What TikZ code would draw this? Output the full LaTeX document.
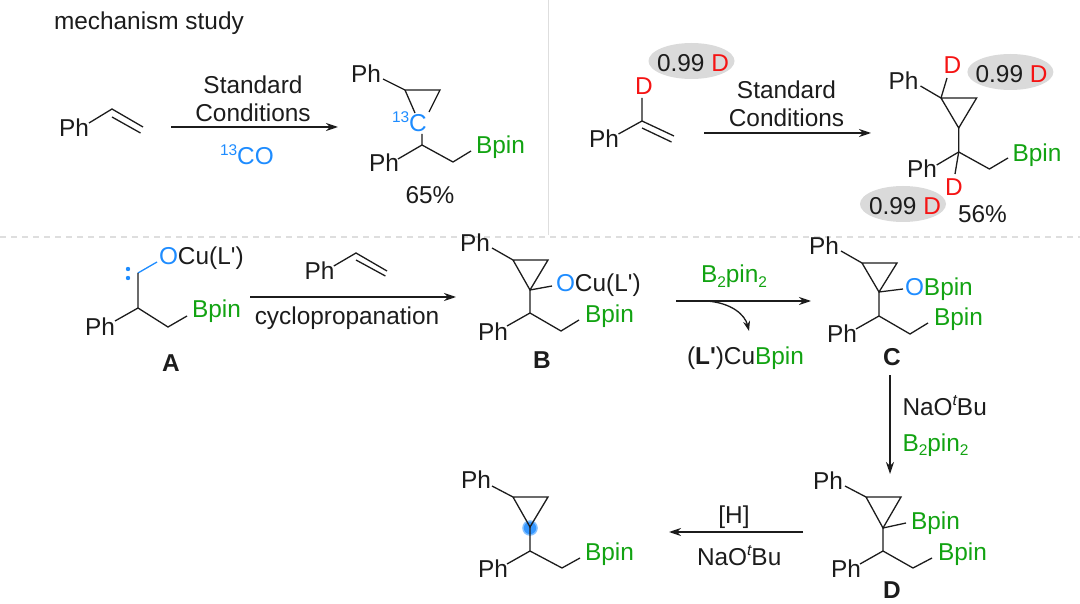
\documentclass[tikz,border=0pt]{standalone}
\usepackage{fontspec}
\setmainfont{Liberation Sans}
\newfontfamily\plainf{Liberation Sans}
\usetikzlibrary{arrows.meta}
\definecolor{ink}{HTML}{1C1C1C}
\definecolor{bgreen}{HTML}{12A312}
\definecolor{cblue}{HTML}{1E8CFF}
\definecolor{dred}{HTML}{F51414}
\definecolor{halo}{HTML}{DADADA}
\definecolor{sepc}{HTML}{DEDEDE}
\newcommand{\up}[1]{\raisebox{0.38em}{\fontsize{15.5}{17}\selectfont #1}}
\newcommand{\dn}[1]{\raisebox{-0.17em}{\fontsize{15.5}{17}\selectfont #1}}
\newcommand{\grn}[1]{\textcolor{bgreen}{#1}}
\newcommand{\blu}[1]{\textcolor{cblue}{#1}}
\newcommand{\rd}[1]{\textcolor{dred}{#1}}
\tikzset{
  lab/.style={inner sep=0pt,outer sep=0pt,anchor=base west,text=ink,font=\plainf\fontsize{24.4}{27}\selectfont},
  ctr/.style={lab,anchor=base},
  bold/.style={ctr,font=\plainf\fontsize{24.4}{27}\selectfont\bfseries},
  bond/.style={draw=ink,line width=1.3pt,line join=miter},
  rxn/.style={draw=ink,line width=1.4pt,-{Stealth[length=12pt,width=8pt]}},
  halofill/.style={fill=halo,draw=none},
  sep/.style={draw=sepc,line width=1.1pt}
}
\begin{document}
\begin{tikzpicture}[x=1pt,y=-1pt]
\useasboundingbox (0,0) rectangle (1080,604);
% separators
\draw[sep] (548.6,0) -- (548.6,235);
\draw[sep,dash pattern=on 6pt off 5pt] (0,237) -- (1080,237);
% halos
\fill[halofill] (691.5,61) ellipse [x radius=43,y radius=18];
\fill[halofill] (1010.4,72) ellipse [x radius=43,y radius=18];
\fill[halofill] (903,204) ellipse [x radius=43,y radius=18];
\fill[cblue!55] (530,528) circle (7.8);
\fill[cblue!90] (530,528) circle (6.2);

\node[lab] (title) at (54,30) {mechanism study};

% styrene 1
\node[lab] (ph1) at (59,137) {Ph};
\draw[bond] (89,123) -- (112,109) -- (143,127);
\draw[bond] (112,117) -- (140.5,133);
% arrow 1
\coordinate (a1s) at (171,127); \coordinate (a1e) at (338,127);
\draw[rxn] (a1s) -- (a1e);
\node[ctr] (std1) at (253,94) {Standard};
\node[ctr] (con1) at (253,122) {Conditions};
\node[lab] (co13) at (220,165) {\blu{\up{13}CO}};
% product 1
\node[lab] (ph2) at (351,83) {Ph};
\draw[bond] (383,79) -- (405,90) -- (440,90) -- (429,112);
\draw[bond] (405,90) -- (415,113);
\node[lab] (c13) at (392,132) {\blu{\up{13}C}};
\draw[bond] (422,134) -- (422,145) -- (398,159);
\draw[bond] (422,145) -- (453,162) -- (471,151);
\node[lab] (ph3) at (369,172) {Ph};
\node[lab] (bp1) at (476,154) {\grn{Bpin}};
\node[ctr] (y1) at (430,204) {65\%};

% deuterated styrene
\node[lab] (h1) at (657,72) {0.99 \rd{D}};
\node[lab] (d1) at (635,95) {\rd{D}};
\draw[bond] (642,98) -- (642,121) -- (618.5,134);
\draw[bond] (642,121) -- (674,136);
\draw[bond] (642,128) -- (671.5,142);
\node[lab] (ph4) at (589,148) {Ph};
% arrow 2
\coordinate (a2s) at (704,133); \coordinate (a2e) at (871,133);
\draw[rxn] (a2s) -- (a2e);
\node[ctr] (std2) at (786.5,99) {Standard};
\node[ctr] (con2) at (786.5,127) {Conditions};
% product 2
\node[lab] (ph5) at (888.5,90) {Ph};
\node[lab] (d2) at (943.6,74) {\rd{D}};
\draw[bond] (920.5,86) -- (941,98);
\draw[bond] (941,98) -- (947,78);
\draw[bond] (941,98) -- (976.6,98) -- (958.7,128) -- cycle;
\draw[bond] (958.7,128) -- (958.7,152) -- (936.7,165);
\draw[bond] (958.7,152) -- (989.4,169) -- (1008,158);
\draw[bond] (958.7,152) -- (955,174);
\node[lab] (h2) at (975.6,83) {0.99 \rd{D}};
\node[lab] (ph6) at (907,178) {Ph};
\node[lab] (bp2) at (1012.5,162) {\grn{Bpin}};
\node[lab] (d3) at (945,196) {\rd{D}};
\node[lab] (h3) at (869,215) {0.99 \rd{D}};
\node[ctr] (y2) at (982.5,223) {56\%};

% A
\node[lab] (oa) at (159,265) {\blu{O}Cu(L')};
\draw[bond,draw=cblue] (138,273) -- (157,262);
\draw[bond] (138,273) -- (138,308) -- (115,321);
\draw[bond] (138,308) -- (168,327) -- (187,316);
\fill[cblue] (128,269) circle (2.2);
\fill[cblue] (128,278) circle (2.2);
\node[lab] (ph7) at (85,336) {Ph};
\node[lab] (bp3) at (192,318) {\grn{Bpin}};
\node[bold] (la) at (171,371) {A};
% styrene reagent
\node[lab] (ph8) at (304.5,280) {Ph};
\draw[bond] (333.8,266) -- (356,253) -- (387,271);
\draw[bond] (356,260) -- (385.4,276);
% arrow 3
\coordinate (a3s) at (250,297); \coordinate (a3e) at (456,297);
\draw[rxn] (a3s) -- (a3e);
\node[ctr] (cp) at (347,325) {cyclopropanation};
% B
\node[lab] (ph9) at (460,252) {Ph};
\draw[bond] (492,248) -- (513,260);
\draw[bond] (513,260) -- (548,260) -- (530,290) -- cycle;
\draw[bond] (530,290) -- (552,286);
\draw[bond] (530,290) -- (530,313) -- (507,326);
\draw[bond] (530,313) -- (561,331) -- (579,320);
\node[lab] (ob) at (556,292) {\blu{O}Cu(L')};
\node[lab] (ph10) at (478,341) {Ph};
\node[lab] (bp4) at (585,323) {\grn{Bpin}};
\node[bold] (lb) at (542,368) {B};
% arrow 4
\coordinate (a4s) at (676,301); \coordinate (a4e) at (811,301);
\coordinate (c4s) at (707,301); \coordinate (c4e) at (749,331);
\draw[rxn] (a4s) -- (a4e);
\draw[rxn,line width=1.3pt,-{Stealth[length=10pt,width=7pt]}] (c4s) .. controls (732,303) and (745,315) .. (c4e);
\node[lab] (b2a) at (701,283) {\grn{B\dn{2}pin\dn{2}}};
\node[lab] (cub) at (687,364) {(\textbf{L'})Cu\grn{Bpin}};
% C
\node[lab] (ph11) at (809,255) {Ph};
\draw[bond] (841,251) -- (862,263);
\draw[bond] (862,263) -- (897,263) -- (879,292) -- cycle;
\draw[bond] (879,292) -- (903,289);
\draw[bond] (879,292) -- (879,316) -- (856,329);
\draw[bond] (879,316) -- (910,334) -- (928,323);
\node[lab] (oc) at (905,296) {\blu{O}\grn{Bpin}};
\node[lab] (ph12) at (827,343) {Ph};
\node[lab] (bp5) at (934,326) {\grn{Bpin}};
\node[bold] (lc) at (892,366) {C};
% arrow 5
\coordinate (a5s) at (890,375); \coordinate (a5e) at (890,474);
\draw[rxn] (a5s) -- (a5e);
\node[lab] (nab1) at (902.5,415) {NaO\up{\itshape t}Bu};
\node[lab] (b2b) at (902.5,451) {\grn{B\dn{2}pin\dn{2}}};
% D
\node[lab] (ph13) at (813,489) {Ph};
\draw[bond] (845,486) -- (866,497);
\draw[bond] (866,497) -- (901,497) -- (883,528) -- cycle;
\draw[bond] (883,528) -- (906,523);
\draw[bond] (883,528) -- (883,551) -- (860,564);
\draw[bond] (883,551) -- (913,568) -- (932,558);
\node[lab] (bp6) at (911,529) {\grn{Bpin}};
\node[lab] (ph14) at (831,577) {Ph};
\node[lab] (bp7) at (938,560) {\grn{Bpin}};
\node[bold] (ld) at (892,598.5) {D};
% arrow 6
\coordinate (a6s) at (803,532); \coordinate (a6e) at (669,532);
\draw[rxn] (a6s) -- (a6e);
\node[ctr] (hh) at (734,523) {[H]};
\node[lab] (nab2) at (697,565) {NaO\up{\itshape t}Bu};
% final product
\node[lab] (ph15) at (461,488) {Ph};
\draw[bond] (492,486) -- (513,497);
\draw[bond] (513,497) -- (548,497) -- (530,527) -- cycle;
\draw[bond] (530,527) -- (530,551) -- (507,564);
\draw[bond] (530,551) -- (562,568) -- (580,558);
\node[lab] (ph16) at (478,577) {Ph};
\node[lab] (bp8) at (585,560) {\grn{Bpin}};
\end{tikzpicture}
\end{document}
